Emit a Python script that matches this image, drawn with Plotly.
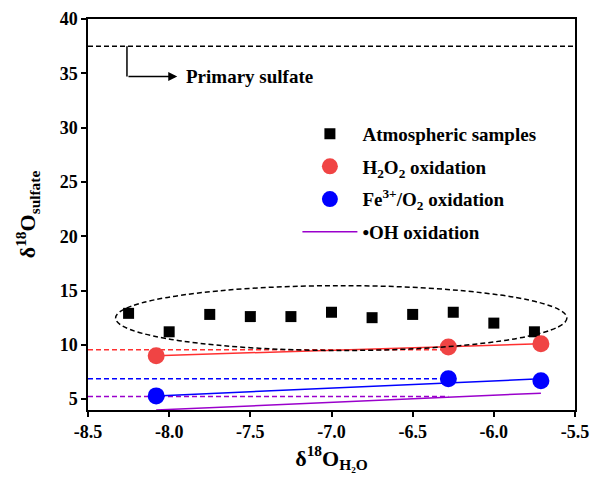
import plotly.graph_objects as go

# ---- data ----
x_atm = [-8.25, -8.0, -7.75, -7.5, -7.25, -7.0, -6.75, -6.5, -6.25, -6.0, -5.75]
y_atm = [12.9, 11.2, 12.8, 12.6, 12.6, 13.0, 12.5, 12.8, 13.0, 12.0, 11.2]

x_exp = [-8.08, -6.28, -5.71]
y_h2o2 = [9.0, 9.8, 10.1]
y_fe = [5.3, 6.87, 6.7]

x_fit = [-8.08, -5.71]
fit_h2o2 = [9.0, 10.1]
fit_fe = [5.3, 6.87]
fit_oh = [4.0, 5.55]

x_ref = [-8.5, -6.28]
ref_h2o2 = [9.54, 9.54]
ref_fe = [6.87, 6.87]
ref_oh = [5.24, 5.24]

x_primary = [-8.5, -5.5]
y_primary = [37.5, 37.5]

x_ticks = [-8.5, -8.0, -7.5, -7.0, -6.5, -6.0, -5.5]
x_tick_labels = ["-8.5", "-8.0", "-7.5", "-7.0", "-6.5", "-6.0", "-5.5"]
y_ticks = [5, 10, 15, 20, 25, 30, 35, 40]

RED = "#F04444"
RED_LINE = "#FF3030"
BLUE = "#0000FF"
PURPLE = "#9A00CC"
FONT = "Liberation Serif, serif"

fig = go.Figure()

# dashed reference lines
fig.add_trace(go.Scatter(x=x_primary, y=y_primary, mode="lines",
                         line=dict(color="black", width=1.5, dash="5px,3px"), showlegend=False))
fig.add_trace(go.Scatter(x=x_ref, y=ref_h2o2, mode="lines",
                         line=dict(color=RED_LINE, width=1.5, dash="5px,3px"), showlegend=False))
fig.add_trace(go.Scatter(x=x_ref, y=ref_fe, mode="lines",
                         line=dict(color=BLUE, width=1.5, dash="5px,3px"), showlegend=False))
fig.add_trace(go.Scatter(x=x_ref, y=ref_oh, mode="lines",
                         line=dict(color=PURPLE, width=1.5, dash="5px,3px"), showlegend=False))

# fit lines
fig.add_trace(go.Scatter(x=x_fit, y=fit_h2o2, mode="lines",
                         line=dict(color=RED_LINE, width=1.5), showlegend=False))
fig.add_trace(go.Scatter(x=x_fit, y=fit_fe, mode="lines",
                         line=dict(color=BLUE, width=1.5), showlegend=False))

# series
fig.add_trace(go.Scatter(x=x_atm, y=y_atm, mode="markers", name="Atmospheric samples",
                         legendgroup="a",
                         marker=dict(symbol="square", size=11, color="black")))
fig.add_trace(go.Scatter(x=x_exp, y=y_h2o2, mode="markers", name="H<sub>2</sub>O<sub>2</sub> oxidation",
                         legendgroup="b",
                         marker=dict(symbol="circle", size=17, color=RED)))
fig.add_trace(go.Scatter(x=x_exp, y=y_fe, mode="markers", name="Fe<sup>3+</sup>/O<sub>2</sub> oxidation",
                         legendgroup="c",
                         marker=dict(symbol="circle", size=17, color=BLUE)))
fig.add_trace(go.Scatter(x=x_fit, y=fit_oh, mode="lines", name="\u2022OH oxidation",
                         legendgroup="d",
                         line=dict(color=PURPLE, width=1.5)))

# ellipse
fig.add_shape(type="circle", xref="x", yref="y", x0=-8.33, x1=-5.55, y0=9.48, y1=15.45,
              line=dict(color="black", width=1.5, dash="5px,3px"))

# primary sulfate bent arrow
fig.add_shape(type="line", xref="x", yref="y", x0=-8.26, x1=-8.26, y0=37.5, y1=34.7,
              line=dict(color="black", width=1.5))
fig.add_annotation(x=-7.95, y=34.7, ax=-8.26, ay=34.7, axref="x", ayref="y", xref="x", yref="y",
                   text="", showarrow=True, arrowhead=2, arrowsize=1.2, arrowwidth=1.5, arrowcolor="black")
fig.add_annotation(x=-7.91, y=34.7, xref="x", yref="y", text="Primary sulfate", showarrow=False,
                   xanchor="left", yanchor="middle",
                   font=dict(family=FONT, size=19, color="black", weight="bold"))

axis_common = dict(showline=True, linecolor="black", linewidth=1.5, mirror=True,
                   ticks="outside", ticklen=5, tickwidth=1.5, tickcolor="black",
                   showgrid=False, zeroline=False, automargin=False,
                   tickfont=dict(family=FONT, size=18, color="black", weight="bold"))

# page body has an 8px margin: figure drawn 8px in from the window's top-left
fig.update_layout(
    width=592, height=484,
    margin=dict(l=80, r=25, t=11, b=82),
    plot_bgcolor="white", paper_bgcolor="white",
    xaxis=dict(range=[-8.5, -5.5], tickvals=x_ticks, ticktext=x_tick_labels,
               title=dict(text="\u03b4<sup>18</sup>O<sub>H\u2082O</sub>", standoff=8,
                          font=dict(family=FONT, size=22, color="black", weight="bold")),
               **axis_common),
    yaxis=dict(range=[4, 40], tickvals=y_ticks,
               title=dict(text="\u03b4<sup>18</sup>O<sub>sulfate</sub>", standoff=18,
                          font=dict(family=FONT, size=22, color="black", weight="bold")),
               **axis_common),
    legend=dict(x=0.43, y=0.755, xanchor="left", yanchor="top", bgcolor="rgba(0,0,0,0)",
                tracegroupgap=5, traceorder="grouped", itemwidth=55,
                font=dict(family=FONT, size=19, color="black", weight="bold")),
)

fig.write_html("out.html")
